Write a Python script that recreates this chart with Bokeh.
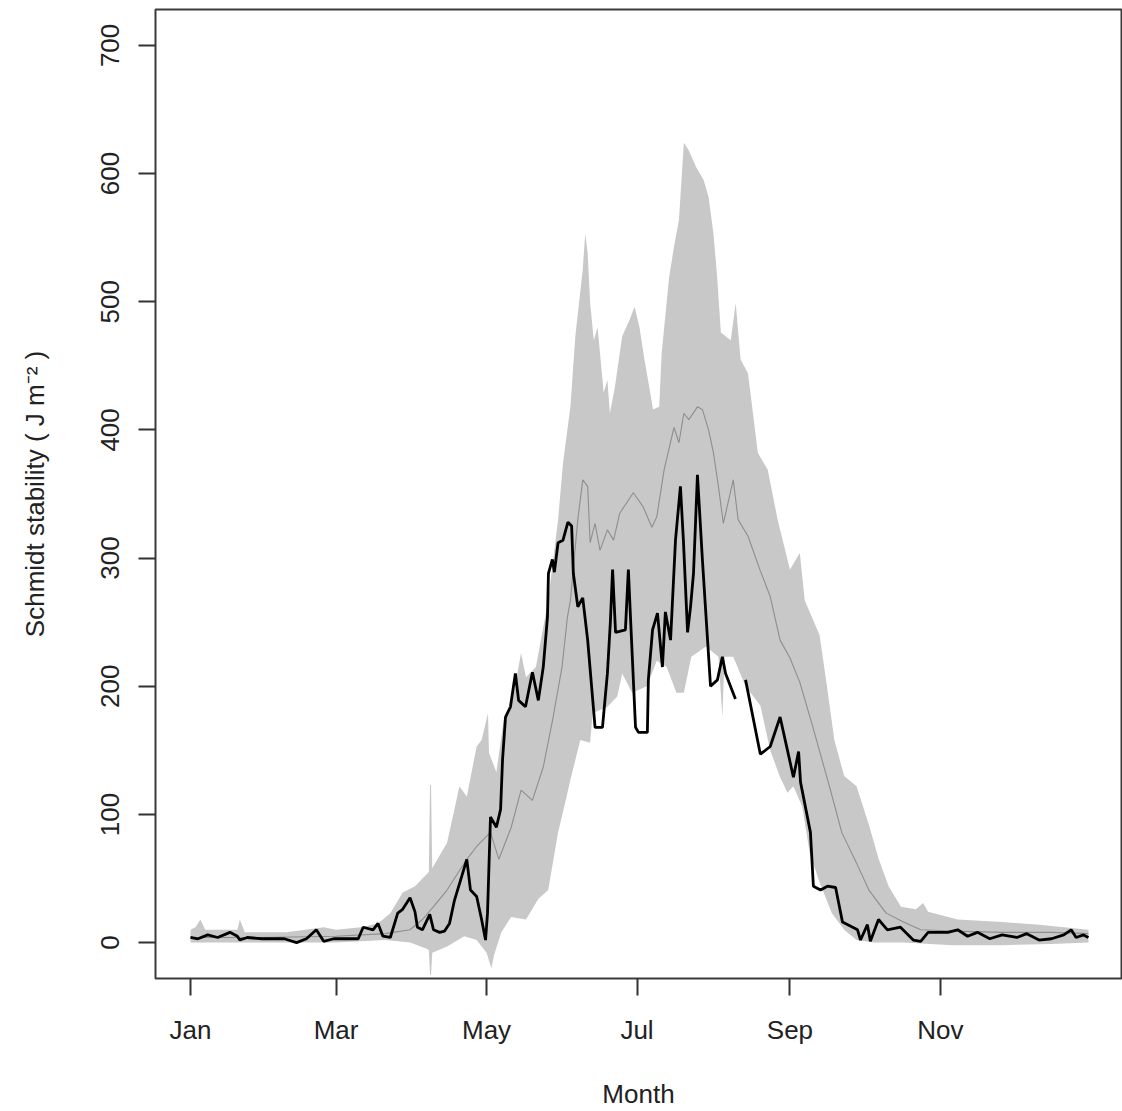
import math
from bokeh.plotting import figure
from bokeh.models import FixedTicker, Range1d
from bokeh.embed import file_html
from bokeh.resources import INLINE

# ---------------- data ----------------
month_ticks = [1, 60, 121, 182, 244, 305]
month_labels = ["Jan", "Mar", "May", "Jul", "Sep", "Nov"]
y_ticks = [0, 100, 200, 300, 400, 500, 600, 700]

# observed Schmidt stability (black line); NaN = missing data
obs_day = [1, 4, 8, 12, 17, 20, 21, 24, 30, 39, 44, 48, 52, 55, 59, 65, 69, 71, 75, 77,
           79, 82, 85, 87, 90, 92, 93, 95, 98, 99.5, 102, 104, 106, 108, 111, 113, 114.5, 117, 119, 120.6,
           121.4, 122.6, 125, 126.7, 127.5, 128.7, 130.7, 132.7, 134, 136.8, 139.6, 142, 144, 145.7, 146.1, 147.7, 148.5, 150, 152, 154,
           155.5, 156.2, 158, 160, 162, 165, 168, 170, 171.2, 172.1, 173.3, 177.3, 178.5, 179.4, 181.4, 182.6, 186.2, 186.6, 188.3, 190.3,
           192.3, 193.5, 195.6, 197.6, 199.6, 200.8, 202.5, 203.7, 204.9, 206.5, 208.5, 210.6, 211.8, 214.6, 216.6, 217.9, 221.9, 224, 226, 232,
           236, 240, 243, 245.4, 247.5, 248.3, 252.3, 253.5, 256.4, 259.2, 262.5, 265.3, 271.4, 272.6, 275.4, 276.6, 279.9, 283.5, 288.8, 294,
           297, 300, 308, 312, 316, 320, 325, 330, 336, 340, 345, 350, 355, 358, 360, 363, 365]
obs_val = [4, 3, 6, 4, 8, 5, 2, 4, 3, 3, 0, 3, 10, 1, 3, 3, 3, 12, 10, 15,
           5, 4, 23, 26, 35, 24, 12, 10, 22, 10, 8, 9, 15, 33, 52, 65, 41, 36, 18, 2,
           23, 98, 90, 104, 143, 176, 184, 210, 189, 184, 211, 189, 215, 254, 288, 299, 289, 312, 314, 328,
           325, 288, 262, 269, 236, 168, 168, 210, 250, 291, 242, 244, 291, 252, 168, 164, 164, 205, 244, 257,
           215, 258, 236, 314, 356, 314, 242, 262, 288, 365, 299, 236, 200, 205, 223, 210, 190, float("nan"), 205, 147,
           153, 176, 150, 129, 149, 125, 86, 44, 41, 44, 43, 16, 10, 2, 14, 1, 18, 10, 12, 2,
           1, 8, 8, 10, 5, 8, 3, 6, 4, 7, 2, 3, 6, 10, 4, 6, 4]

# median of simulations (thin grey line)
med_day = [1, 30, 60, 80, 90, 95, 99.5, 105, 113, 117, 122.6, 126, 131, 135, 139.6, 144, 148, 151.6, 153.8, 155,
           158, 160, 162, 163, 165, 167, 170, 172.5, 175, 180.5, 184.5, 188, 190, 193, 197, 199, 201, 203, 206.5, 208.5,
           211, 213, 215, 217, 221, 223, 227, 232, 236, 240, 244, 248, 253, 260, 265, 271, 276, 283, 290, 297,
           310, 330, 350, 365]
med_val = [4, 4, 5, 7, 10, 18, 28, 41, 65, 75, 86, 65, 90, 119, 111, 137, 176, 215, 254, 267,
           330, 361, 356, 312, 327, 306, 322, 314, 335, 351, 340, 324, 332, 369, 402, 390, 413, 408, 418, 416,
           400, 382, 356, 327, 361, 330, 317, 290, 270, 236, 222, 203, 170, 122, 86, 62, 41, 23, 16, 10,
           9, 8, 8, 7]

# upper envelope of simulations
up_day = [1, 3, 5, 7, 20, 21, 23, 40, 55, 60, 70, 77, 82, 87, 92, 97.6, 98.1, 98.5, 99, 105,
          108, 110, 113, 117, 119, 121.6, 122, 125, 128, 131, 135, 137, 141, 144, 146, 150, 152, 155, 157, 160,
          161, 162, 163, 164.5, 166, 167, 168.5, 170, 171, 173, 176, 179, 181, 183, 185, 187, 188.5, 191, 192, 195,
          197, 199, 201, 203, 206, 209, 211, 213, 214.5, 216, 220, 222, 224, 227, 231, 235, 239, 244, 248, 250,
          256, 259, 262, 266, 271, 276, 280, 284, 289, 295, 298, 300, 312, 330, 345, 355, 365]
up_val = [10, 12, 18, 10, 10, 18, 8, 8, 12, 10, 12, 15, 23, 39, 44, 55, 123, 123, 58, 78,
          104, 122, 114, 153, 158, 179, 148, 133, 174, 184, 226, 207, 215, 246, 267, 330, 374, 418, 473, 525,
          553, 538, 499, 470, 480, 460, 429, 439, 413, 433, 473, 486, 496, 480, 455, 433, 416, 418, 460, 519,
          543, 564, 624, 618, 605, 595, 582, 553, 519, 476, 470, 499, 455, 444, 382, 369, 330, 291, 304, 267,
          240, 200, 158, 130, 122, 92, 65, 44, 28, 26, 31, 24, 18, 16, 14, 12, 10]

# lower envelope of simulations
lo_day = [1, 30, 60, 80, 90, 97, 97.6, 98.1, 98.5, 99, 105, 112, 117, 121, 123, 124, 127, 131, 137, 142,
          146, 150, 153, 155, 159, 163, 164, 170, 174, 176, 180, 186, 190, 194, 198, 201, 204, 210, 215, 216.6,
          217.5, 221, 226, 232, 236, 240, 243, 245.4, 249, 252, 256, 261, 266, 271, 278, 290, 310, 330, 350, 365]
lo_val = [0, 0, 0, 2, 0, -5, -6, -25, -25, -8, -3, 5, 2, -8, -20, -10, 8, 20, 18, 34,
          41, 86, 110, 127, 158, 156, 179, 184, 192, 210, 195, 200, 220, 215, 195, 195, 223, 231, 223, 176,
          223, 223, 200, 185, 150, 129, 117, 122, 106, 70, 47, 23, 10, 2, 0, 0, -2, -2, -1, 0]

# ---------------- figure ----------------
FONT = "Liberation Sans, Arial, sans-serif"
TXT = "#222222"

p = figure(width=1122, height=1111, output_backend="svg", toolbar_location=None,
           x_range=Range1d(-13.19, 378.4), y_range=Range1d(-28, 728),
           min_border_left=155, min_border_right=1, min_border_top=9, min_border_bottom=132)
p.background_fill_color = "white"
p.border_fill_color = "white"
p.outline_line_color = "#3a3a3a"
p.outline_line_width = 2
p.xgrid.grid_line_color = None
p.ygrid.grid_line_color = None

# band
band_x = list(up_day) + list(reversed(lo_day))
band_y = list(up_val) + list(reversed(lo_val))
p.patch(band_x, band_y, fill_color="#c8c8c8", line_color=None)

# median
p.line(med_day, med_val, line_color="#8e8e8e", line_width=1.1)

# observed
p.line(obs_day, obs_val, line_color="black", line_width=2.8)

# axes
for ax in (p.xaxis[0], p.yaxis[0]):
    ax.axis_line_color = None
    ax.major_tick_line_color = "#333333"
    ax.major_tick_line_width = 2
    ax.major_tick_out = 17
    ax.major_tick_in = 0
    ax.minor_tick_line_color = None
    ax.major_label_text_font = FONT
    ax.major_label_text_font_size = "26px"
    ax.major_label_text_color = TXT
    ax.axis_label_text_font = FONT
    ax.axis_label_text_font_size = "26px"
    ax.axis_label_text_font_style = "normal"
    ax.axis_label_text_color = TXT

p.xaxis.ticker = FixedTicker(ticks=month_ticks)
p.xaxis.major_label_overrides = {t: l for t, l in zip(month_ticks, month_labels)}
p.xaxis.major_label_standoff = 19
p.xaxis.axis_label = "Month"
p.xaxis.axis_label_standoff = 31

p.yaxis.ticker = FixedTicker(ticks=y_ticks)
p.yaxis.major_label_orientation = "vertical"
p.yaxis.major_label_standoff = 19
p.yaxis.axis_label = "Schmidt stability ( J m\u207b\u00b2 )"
p.yaxis.axis_label_standoff = 49

open("out.html", "w").write(file_html(p, INLINE))
